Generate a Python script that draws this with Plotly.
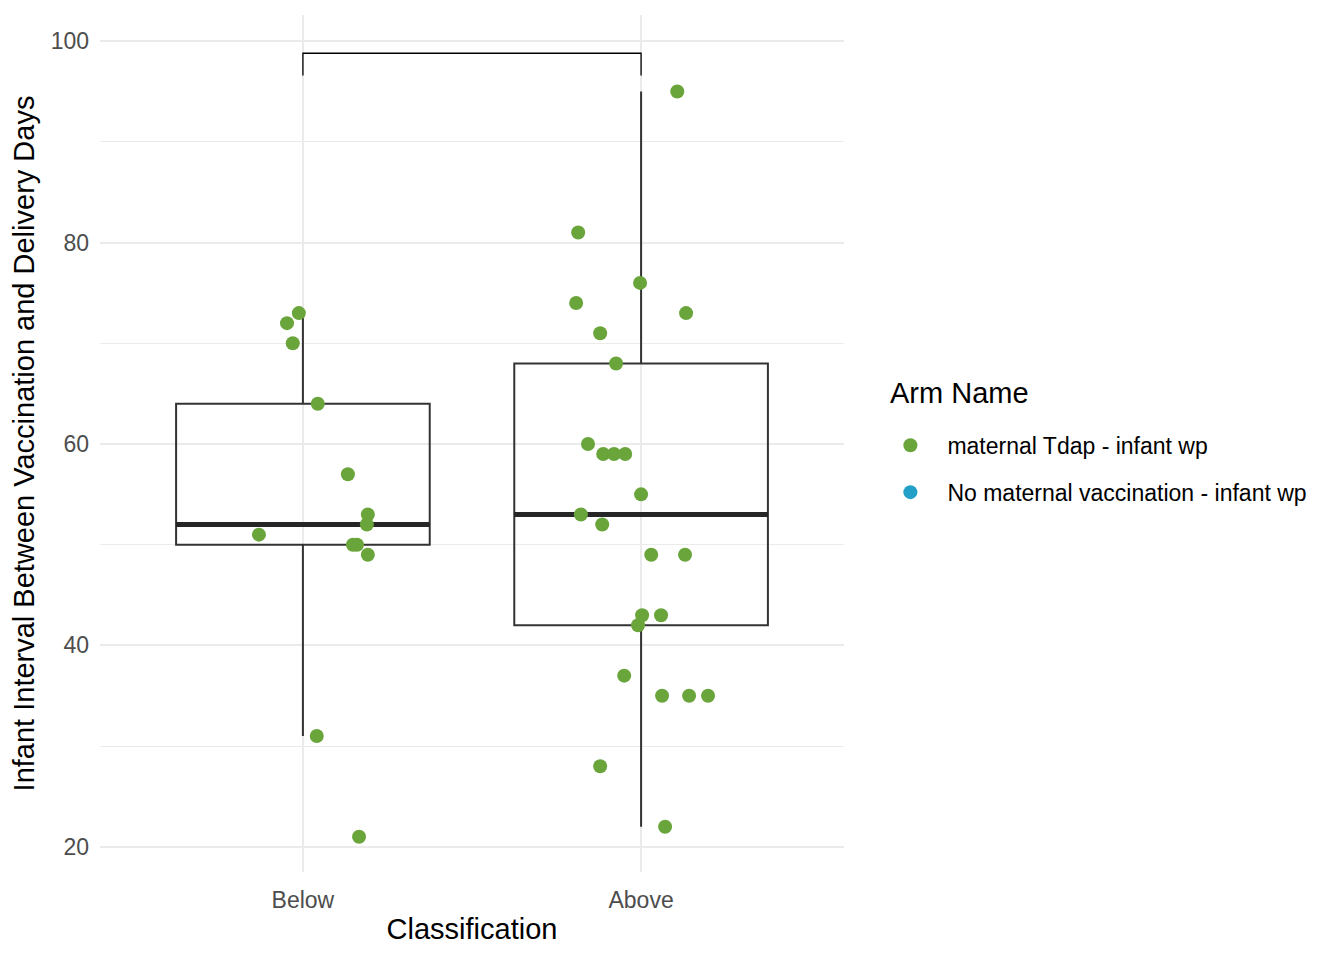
import numpy as np
import plotly.graph_objects as go

# categories along x
classes = ["Below", "Above"]
arms = ["maternal Tdap - infant wp", "No maternal vaccination - infant wp"]
arm_colors = ["#6aa53c", "#22a0c8"]

# infant interval (days) per class
below_days = [72, 73, 70, 64, 57, 53, 51, 52, 50, 50, 49, 31, 21]
above_days = [95, 81, 74, 76, 73, 71, 68, 60, 59, 59, 59, 55, 53, 52,
              49, 49, 43, 43, 42, 37, 35, 35, 35, 28, 22]

# horizontal jitter of each point (fraction of a category slot)
below_jitter = [-0.047, -0.012, -0.030, 0.044, 0.133, 0.192, -0.130, 0.189,
                0.148, 0.160, 0.192, 0.041, 0.166]
above_jitter = [0.107, -0.186, -0.192, -0.003, 0.133, -0.121, -0.074, -0.157,
                -0.112, -0.080, -0.047, 0.000, -0.178, -0.115, 0.030, 0.130,
                0.003, 0.059, -0.009, -0.050, 0.062, 0.142, 0.198, -0.121,
                0.071]

# significance bracket (no label)
bracket_top = 98.8
bracket_drop = 96.6

y_ticks = [20, 40, 60, 80, 100]

FONT = "Liberation Sans"
BOX_W = 0.75


def box_stats(vals):
    v = np.sort(np.asarray(vals, dtype=float))
    q1, med, q3 = np.percentile(v, [25, 50, 75])
    iqr = q3 - q1
    lo = v[v >= q1 - 1.5 * iqr].min()
    hi = v[v <= q3 + 1.5 * iqr].max()
    return q1, med, q3, lo, hi


fig = go.Figure()

groups = [below_days, above_days]
jitters = [below_jitter, above_jitter]

for i, vals in enumerate(groups):
    q1, med, q3, lo, hi = box_stats(vals)
    fig.add_trace(go.Box(
        x=[i], q1=[q1], median=[med], q3=[q3],
        lowerfence=[lo], upperfence=[hi],
        width=BOX_W, whiskerwidth=0,
        fillcolor="rgba(0,0,0,0)",
        line=dict(color="#333333", width=2),
        boxpoints=False, showlegend=False, hoverinfo="skip",
    ))
    # thicker median bar like ggplot
    fig.add_trace(go.Scatter(
        x=[i - BOX_W / 2, i + BOX_W / 2], y=[med, med],
        mode="lines", line=dict(color="#262626", width=5),
        showlegend=False, hoverinfo="skip",
    ))

# bracket between the two groups
fig.add_trace(go.Scatter(
    x=[0, 0, 1, 1], y=[bracket_drop, bracket_top, bracket_top, bracket_drop],
    mode="lines", line=dict(color="black", width=1.3),
    showlegend=False, hoverinfo="skip",
))

xs, ys = [], []
for i, (vals, jit) in enumerate(zip(groups, jitters)):
    xs += [i + j for j in jit]
    ys += vals

fig.add_trace(go.Scatter(
    x=xs, y=ys, mode="markers", name=arms[0], legendgroup="a",
    marker=dict(color=arm_colors[0], size=14),
))
fig.add_trace(go.Scatter(
    x=[None], y=[None], mode="markers", name=arms[1], legendgroup="b",
    marker=dict(color=arm_colors[1], size=14),
))

# legend title placed separately so the gap below it matches ggplot
fig.add_annotation(
    text="Arm Name", xref="paper", yref="paper", x=1.059, y=0.559,
    xanchor="left", yanchor="middle", showarrow=False,
    font=dict(size=29, color="black"),
)

fig.update_layout(
    width=1344, height=960,
    margin=dict(l=92, r=508, t=7, b=96),
    plot_bgcolor="white", paper_bgcolor="white",
    font=dict(family=FONT, size=23, color="black"),
    legend=dict(
        x=1.0395, xanchor="left", y=0.523, yanchor="top",
        font=dict(size=23, color="black"),
        tracegroupgap=14, traceorder="grouped", itemwidth=64,
        bgcolor="rgba(0,0,0,0)",
    ),
    xaxis=dict(
        range=[-0.6, 1.6], tickvals=[0, 1], ticktext=classes,
        showgrid=True, gridcolor="#ebebeb", gridwidth=2,
        zeroline=False, showline=False, ticks="",
        tickfont=dict(size=23, color="#4d4d4d"), ticklabelstandoff=12,
        title=dict(text="Classification", font=dict(size=29, color="black"),
                   standoff=6),
    ),
    yaxis=dict(
        range=[17.5, 102.6], tickvals=y_ticks,
        showgrid=True, gridcolor="#ebebeb", gridwidth=2,
        minor=dict(dtick=10, tick0=0, showgrid=True, gridcolor="#ebebeb",
                   gridwidth=1.2),
        zeroline=False, showline=False, ticks="",
        tickfont=dict(size=23, color="#4d4d4d"), ticklabelstandoff=10,
        title=dict(text="Infant Interval Between Vaccination and Delivery Days",
                   font=dict(size=29, color="black"), standoff=10),
    ),
)

fig.write_html("out.html")
